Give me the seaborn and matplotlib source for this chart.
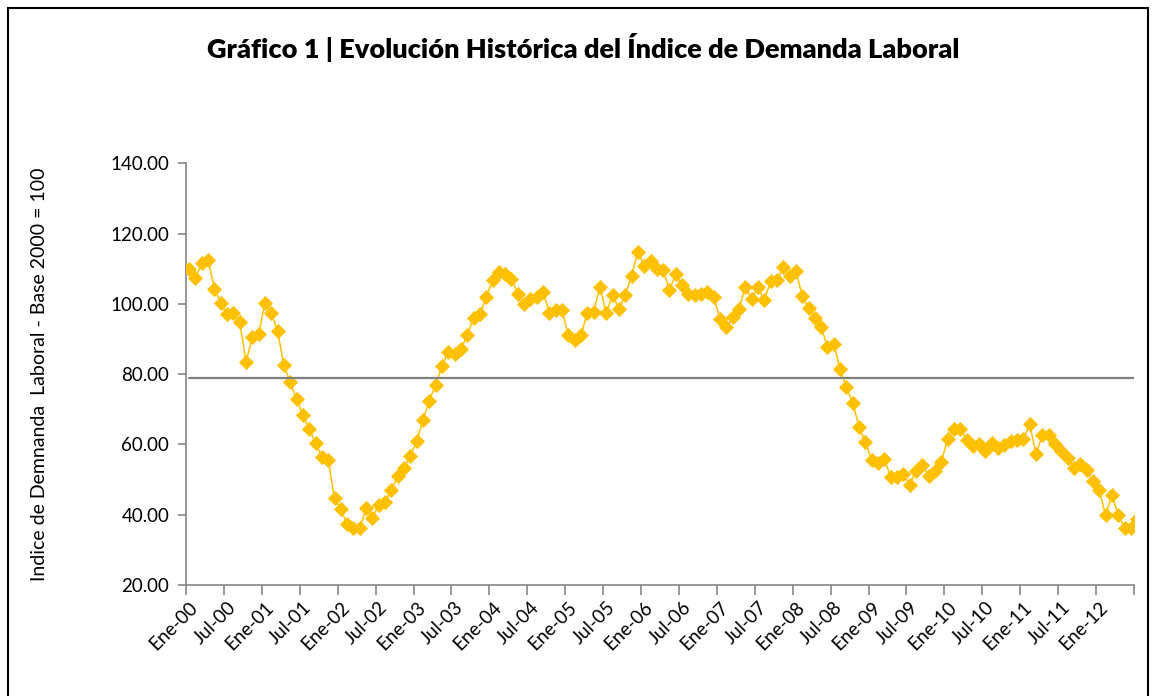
import matplotlib
matplotlib.use("Agg")
import matplotlib.pyplot as plt
import seaborn as sns
from matplotlib.patches import Rectangle

# monthly index, Ene-00 .. Jul-12 (last point falls just outside the axis)
indice = [
    109.8, 107.5, 111.5, 112.6, 104.3, 100.2, 97.0, 97.5, 94.8, 83.4, 90.7, 91.4,
    100.3, 97.4, 92.2, 82.5, 77.7, 72.8, 68.3, 64.4, 60.3, 56.5, 55.6, 44.7,
    41.6, 37.3, 36.1, 36.1, 41.9, 39.2, 42.8, 43.7, 47.0, 51.0, 53.4, 56.7,
    61.0, 67.0, 72.5, 77.0, 82.2, 86.4, 85.8, 87.2, 91.0, 96.0, 97.0, 102.0,
    106.7, 109.0, 108.6, 107.2, 102.7, 100.0, 101.5, 102.0, 103.4, 97.4, 98.2, 98.2,
    91.0, 89.7, 91.1, 97.4, 97.8, 104.8, 97.3, 102.5, 98.6, 102.5, 107.8, 114.9,
    110.8, 112.2, 109.8, 109.5, 104.0, 108.4, 105.4, 102.9, 102.4, 102.7, 103.5, 102.0,
    95.8, 93.4, 96.3, 98.6, 104.8, 101.5, 104.8, 101.0, 106.4, 106.7, 110.4, 108.0,
    109.4, 102.3, 98.7, 96.1, 93.5, 87.7, 88.5, 81.5, 76.3, 71.8, 65.0, 60.6,
    55.5, 54.6, 55.9, 50.6, 50.7, 51.6, 48.5, 52.5, 54.2, 51.1, 52.5, 54.9,
    61.5, 64.4, 64.4, 61.4, 59.6, 60.1, 58.1, 60.5, 59.0, 59.8, 61.0, 61.2,
    61.5, 65.7, 57.3, 62.6, 62.8, 60.1, 58.1, 56.2, 53.4, 54.5, 52.8, 49.5,
    47.0, 39.8, 45.6, 40.0, 36.2, 36.3, 38.7,
]
promedio = 79.0
anios = ["00", "01", "02", "03", "04", "05", "06", "07", "08", "09", "10", "11", "12"]
etiquetas = []
for a in anios:
    etiquetas += ["Ene-" + a, "Jul-" + a]
etiquetas = etiquetas[:25]

meses = list(range(len(indice)))

sns.set_style("white")
plt.rcParams["font.family"] = ["Lato", "DejaVu Sans"]
plt.rcParams["text.color"] = "black"
plt.rcParams["xtick.color"] = "black"
plt.rcParams["ytick.color"] = "black"
plt.rcParams["axes.labelcolor"] = "black"

fig = plt.figure(figsize=(11.53, 6.96), dpi=100)
ax = fig.add_axes([186 / 1153, 1 - 585 / 696, (1134 - 186) / 1153, (585 - 163.3) / 696])

gold = "#FFC000"
sns.lineplot(x=meses, y=indice, ax=ax, color=gold, linewidth=1.1, marker="D",
             markersize=6.8, markeredgecolor=gold, markeredgewidth=0.6, zorder=3)
sns.lineplot(x=meses, y=[promedio] * len(meses), ax=ax, color="#7f7f7f",
             linewidth=1.6, zorder=4)

ax.set_xlim(-0.5, 149.5)
ax.set_ylim(20, 140)

axis_col = "#868686"
for s in ["top", "right"]:
    ax.spines[s].set_visible(False)
for s in ["left", "bottom"]:
    ax.spines[s].set_color(axis_col)
    ax.spines[s].set_linewidth(1.2)

yt = list(range(20, 141, 20))
ax.set_yticks(yt)
ax.set_yticklabels(["%.2f" % v for v in yt], fontsize=13.5)
ax.tick_params(axis="y", direction="out", length=6, color=axis_col, width=1.2, pad=6, left=True)

ax.set_xticks(range(0, 150, 6))
ax.set_xticklabels(etiquetas, rotation=45, ha="right", rotation_mode="anchor", fontsize=13.5)
ax.set_xticks([k - 0.5 for k in range(0, 151, 6)], minor=True)
ax.tick_params(axis="x", which="major", length=0, pad=10)
ax.tick_params(axis="x", which="minor", direction="out", length=7, color=axis_col, width=1.2, bottom=True)

ax.set_xlabel("")
ax.set_ylabel("Indice de Demnanda  Laboral - Base 2000 = 100", fontsize=14)
ax.yaxis.set_label_coords(-(186 - 48) / (1134 - 186), 0.5)
ax.grid(False)

fig.text(583 / 1153, 1 - 48 / 696, "Gráfico 1 | Evolución Histórica del Índice de Demanda Laboral",
         ha="center", va="center", fontsize=19.5, fontweight="heavy", color="black")

fig.patches.append(Rectangle((8 / 1153, -0.1), (1148 - 8) / 1153, 1.1 - 8 / 696,
                             transform=fig.transFigure, fill=False, edgecolor="black", linewidth=1.5))

fig.savefig("out.png", dpi=100)
